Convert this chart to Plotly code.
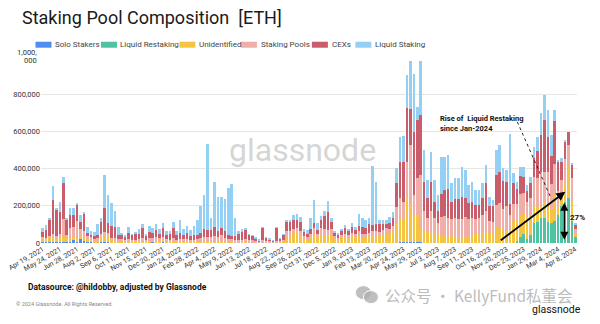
import plotly.graph_objects as go
import pandas as pd

# ---------------- data (values in thousands of ETH) ----------------
weeks = pd.date_range("2021-04-19", periods=156, freq="7D")
categories = [d.strftime("%Y-%m-%d") for d in weeks]

tick_labels = ["Apr 19, 2021", "May 24, 2021", "Jun 28, 2021", "Aug 2, 2021", "Sep 6, 2021",
               "Oct 11, 2021", "Nov 15, 2021", "Dec 20, 2021", "Jan 24, 2022", "Feb 28, 2022",
               "Apr 4, 2022", "May 9, 2022", "Jun 13, 2022", "Jul 18, 2022", "Aug 22, 2022",
               "Sep 26, 2022", "Oct 31, 2022", "Dec 5, 2022", "Jan 9, 2023", "Feb 13, 2023",
               "Mar 20, 2023", "Apr 24, 2023", "May 29, 2023", "Jul 3, 2023", "Aug 7, 2023",
               "Sep 11, 2023", "Oct 16, 2023", "Nov 20, 2023", "Dec 25, 2023", "Jan 29, 2024",
               "Mar 4, 2024", "Apr 8, 2024"]

solo_stakers = [3, 3, 5, 5, 5, 5, 5, 3, 5, 15,
                5, 25, 10, 5, 8, 3, 5, 3, 3, 3,
                2, 2, 2, 2, 2, 2, 2, 3, 3, 3,
                2, 3, 8, 3, 3, 10, 3, 3, 3, 3,
                3, 3, 3, 2, 2, 2, 2, 2, 2, 2,
                2, 2, 2, 2, 2, 2, 2, 2, 2, 2,
                2, 2, 2, 1, 2, 1, 1, 1, 1, 1,
                1, 2, 2, 2, 2, 2, 1, 1, 1, 1,
                1, 1, 1, 1, 1, 1, 1, 1, 1, 1,
                1, 1, 1, 1, 1, 1, 2, 2, 1, 1,
                1, 1, 2, 2, 3, 3, 5, 5, 5, 3,
                3, 2, 2, 2, 2, 2, 2, 2, 2, 2,
                2, 2, 2, 2, 2, 2, 2, 2, 2, 2,
                2, 2, 2, 2, 2, 2, 2, 2, 2, 2,
                2, 2, 2, 2, 2, 2, 2, 2, 2, 2,
                2, 2, 2, 2, 2, 1]

liquid_restaking = [0, 0, 0, 0, 0, 0, 0, 0, 0, 0,
                    0, 0, 0, 0, 0, 0, 0, 0, 0, 0,
                    0, 0, 0, 0, 0, 0, 0, 0, 0, 0,
                    0, 0, 0, 0, 0, 0, 0, 0, 0, 0,
                    0, 0, 0, 0, 0, 0, 0, 0, 0, 0,
                    0, 0, 0, 0, 0, 0, 0, 0, 0, 0,
                    0, 0, 0, 0, 0, 0, 0, 0, 0, 0,
                    0, 0, 0, 0, 0, 0, 0, 0, 0, 0,
                    0, 0, 0, 0, 0, 0, 0, 0, 0, 0,
                    0, 0, 0, 0, 0, 0, 0, 0, 0, 0,
                    0, 0, 0, 0, 0, 0, 0, 0, 0, 0,
                    0, 0, 0, 0, 0, 0, 0, 0, 0, 0,
                    0, 0, 0, 0, 0, 0, 0, 0, 0, 0,
                    0, 0, 0, 0, 0, 0, 0, 0, 10, 30,
                    45, 20, 40, 105, 110, 130, 135, 110, 105, 115,
                    150, 195, 220, 240, 115, 30]

unidentified = [25, 20, 25, 20, 15, 25, 30, 22, 20, 15,
                20, 10, 15, 15, 12, 10, 10, 30, 45, 35,
                12, 10, 8, 8, 5, 8, 5, 5, 8, 10,
                6, 10, 8, 10, 8, 8, 6, 5, 8, 5,
                5, 5, 5, 5, 5, 5, 5, 5, 5, 10,
                5, 5, 5, 5, 5, 5, 3, 3, 3, 3,
                3, 3, 2, 2, 3, 3, 2, 2, 3, 3,
                5, 25, 30, 45, 60, 40, 20, 15, 30, 45,
                30, 35, 40, 40, 35, 20, 15, 25, 30, 25,
                35, 30, 40, 30, 30, 35, 35, 30, 35, 40,
                50, 50, 55, 100, 130, 120, 236, 200, 147, 150,
                80, 60, 55, 50, 50, 45, 40, 35, 30, 35,
                25, 30, 25, 30, 35, 40, 45, 40, 50, 60,
                45, 45, 80, 85, 70, 75, 60, 110, 110, 120,
                110, 120, 110, 100, 80, 70, 85, 100, 70, 150,
                40, 40, 100, 170, 106, 25]

staking_pools = [5, 5, 8, 25, 15, 20, 95, 20, 55, 55,
                 95, 40, 40, 20, 10, 10, 10, 15, 10, 15,
                 15, 15, 10, 10, 8, 12, 8, 10, 12, 15,
                 10, 15, 10, 20, 15, 15, 12, 10, 15, 10,
                 12, 12, 15, 10, 10, 12, 18, 25, 25, 20,
                 30, 25, 35, 20, 15, 15, 10, 10, 10, 15,
                 10, 10, 5, 5, 10, 8, 6, 5, 8, 6,
                 10, 40, 35, 30, 20, 20, 15, 15, 20, 35,
                 15, 45, 35, 30, 40, 15, 10, 15, 15, 15,
                 20, 15, 25, 20, 20, 20, 30, 30, 25, 30,
                 30, 25, 35, 90, 110, 100, 197, 320, 107, 195,
                 280, 108, 80, 120, 80, 60, 100, 110, 100, 90,
                 110, 95, 100, 110, 90, 95, 80, 90, 100, 110,
                 70, 65, 125, 130, 110, 120, 90, 100, 90, 110,
                 110, 80, 90, 150, 160, 180, 160, 170, 140, 160,
                 90, 100, 130, 115, 125, 20]

cexs = [24, 40, 90, 180, 140, 115, 195, 80, 68, 67,
        85, 40, 90, 15, 12, 13, 20, 65, 130, 55,
        65, 60, 25, 25, 22, 30, 28, 32, 25, 52,
        22, 30, 30, 35, 22, 47, 22, 30, 52, 25,
        35, 25, 32, 22, 25, 25, 30, 45, 40, 40,
        50, 35, 40, 35, 20, 15, 20, 35, 45, 52,
        28, 25, 15, 8, 70, 16, 12, 7, 70, 12,
        27, 50, 50, 45, 40, 50, 25, 20, 25, 25,
        25, 40, 70, 95, 35, 20, 18, 25, 35, 25,
        30, 25, 25, 35, 30, 45, 30, 40, 40, 30,
        20, 30, 45, 130, 195, 210, 286, 195, 340, 313,
        327, 160, 104, 158, 91, 63, 120, 140, 160, 95,
        100, 110, 120, 100, 90, 85, 80, 75, 90, 150,
        80, 85, 160, 167, 150, 130, 60, 110, 80, 100,
        90, 60, 80, 100, 140, 200, 280, 190, 150, 230,
        155, 100, 92, 72, 72, 20]

liquid_staking = [23, 28, 6, 77, 15, 58, 32, 10, 40, 36,
                  5, 37, 13, 31, 21, 21, 57, 21, 178, 151,
                  120, 83, 41, 9, 3, 34, 2, 4, 27, 24,
                  8, 35, 26, 34, 27, 27, 19, 14, 33, 19,
                  70, 30, 38, 29, 48, 81, 142, 182, 458, 62,
                  242, 181, 163, 174, 253, 279, 99, 12, 17, 5,
                  2, 2, 3, 2, 1, 2, 1, 1, 2, 2,
                  2, 4, 4, 30, 33, 27, 16, 21, 61, 126,
                  36, 22, 27, 61, 23, 6, 6, 11, 17, 11,
                  21, 13, 64, 48, 44, 33, 319, 228, 24, 24,
                  24, 34, 28, 80, 134, 142, 181, 260, 311, 72,
                  290, 170, 99, 161, 117, 89, 203, 178, 182, 100,
                  111, 111, 159, 151, 96, 108, 79, 79, 80, 98,
                  53, 35, 133, 143, 70, 66, 372, 53, 38, 49,
                  54, 31, 35, 61, 80, 115, 133, 143, 113, 58,
                  10, 19, 10, 0, 9, 11]

series_names = ["Solo Stakers", "Liquid Restaking", "Unidentified", "Staking Pools", "CEXs", "Liquid Staking"]
series_values = [solo_stakers, liquid_restaking, unidentified, staking_pools, cexs, liquid_staking]
series_colors = ["#4f8ef0", "#4fc3a1", "#f6c443", "#f0aea8", "#c95d6b", "#93d0f4"]

y_tickvals = [0, 200000, 400000, 600000, 800000, 1000000]
y_ticktext = ["0", "200,000", "400,000", "600,000", "800,000", ""]
y_top_label = ["1,000,", "000"]

# ---------------- layout geometry ----------------
FW, FH = 600, 324
ML, MT, MR, MB = 40.5, 57, 23.3, 80.7
PW, PH = FW - ML - MR, FH - MT - MB


def pp(x, y):
    return (x - ML) / PW, 1 - (y - MT) / PH


fig = go.Figure()
for name, vals, col in zip(series_names, series_values, series_colors):
    fig.add_trace(go.Bar(x=categories, y=[v * 1000 for v in vals], name=name,
                         marker=dict(color=col, line=dict(width=0)), showlegend=False))

annotations = []
shapes = []

# title
tx, ty = pp(19, 17)
annotations.append(dict(x=tx, y=ty, xref="paper", yref="paper", xanchor="left", yanchor="middle",
                        text="Staking Pool Composition  [ETH]", showarrow=False,
                        font=dict(family="Roboto", size=18, color="#1a1a1a")))

# manual legend
legend_pos = [(35, 53), (100.5, 118), (179, 197), (240.5, 259), (311.5, 330), (355, 373)]
for (rx, tx_), name, col in zip(legend_pos, series_names, series_colors):
    x0, y0 = pp(rx, 41.7)
    x1, y1 = pp(rx + 16, 47.7)
    shapes.append(dict(type="rect", xref="paper", yref="paper", x0=x0, x1=x1, y0=y0, y1=y1,
                       fillcolor=col, line=dict(width=0)))
    lx, ly = pp(tx_, 44.7)
    annotations.append(dict(x=lx, y=ly, xref="paper", yref="paper", xanchor="left", yanchor="middle",
                            text=name, showarrow=False,
                            font=dict(family="Roboto", size=8, color="#444")))

# wrapped top y tick label
for txt, yy in zip(y_top_label, [52.5, 60.5]):
    lx, ly = pp(38.5, yy)
    annotations.append(dict(x=lx, y=ly, xref="paper", yref="paper", xanchor="right", yanchor="middle",
                            text=txt, showarrow=False,
                            font=dict(family="Roboto", size=7.5, color="#333")))

# watermark
wx, wy = pp(302, 150)
annotations.append(dict(x=wx, y=wy, xref="paper", yref="paper", xanchor="center", yanchor="middle",
                        text="glassnode", showarrow=False,
                        font=dict(family="Roboto", size=32, color="rgba(200,200,200,0.75)")))

# in-chart annotation text
ax1, ay1 = pp(438, 119)
annotations.append(dict(x=ax1, y=ay1, xref="paper", yref="paper", xanchor="left", yanchor="middle",
                        text="<b>Rise of  Liquid Restaking</b>", showarrow=False,
                        font=dict(family="Roboto", size=7.5, color="#111")))
ax2, ay2 = pp(438, 128.5)
annotations.append(dict(x=ax2, y=ay2, xref="paper", yref="paper", xanchor="left", yanchor="middle",
                        text="<b>since Jan-2024</b>", showarrow=False,
                        font=dict(family="Roboto", size=7.5, color="#111")))

# dotted pointer
d0x, d0y = pp(517, 122)
d1x, d1y = pp(551, 199)
shapes.append(dict(type="line", xref="paper", yref="paper", x0=d0x, y0=d0y, x1=d1x, y1=d1y,
                   line=dict(color="#222", width=1, dash="dot")))

# rising arrow
hx, hy = pp(565, 192)
annotations.append(dict(x=hx, y=hy, xref="paper", yref="paper", text="", showarrow=True,
                        ax=499 - 565, ay=241.5 - 192, arrowhead=2, arrowsize=1, arrowwidth=1.8,
                        arrowcolor="#000"))
# double arrow
vx, vy = pp(564, 203)
annotations.append(dict(x=vx, y=vy, xref="paper", yref="paper", text="", showarrow=True,
                        ax=0, ay=38.5, arrowhead=2, startarrowhead=2, arrowside="end+start",
                        arrowsize=1, arrowwidth=1.6, arrowcolor="#000"))
px_, py_ = pp(568, 217.5)
annotations.append(dict(x=px_, y=py_, xref="paper", yref="paper", xanchor="left", yanchor="middle",
                        text="<b>27%</b>", showarrow=False,
                        font=dict(family="Roboto", size=8, color="#111")))

# footer
fx, fy = pp(25, 287)
annotations.append(dict(x=fx, y=fy, xref="paper", yref="paper", xanchor="left", yanchor="middle",
                        text="<b>Datasource: @hildobby, adjusted by Glassnode</b>", showarrow=False,
                        font=dict(family="Liberation Sans Narrow, Roboto", size=8.5, color="#111")))
cx, cy = pp(13, 304)
annotations.append(dict(x=cx, y=cy, xref="paper", yref="paper", xanchor="left", yanchor="middle",
                        text="© 2024 Glassnode. All Rights Reserved.", showarrow=False,
                        font=dict(family="Roboto", size=5.5, color="#888")))
gx, gy = pp(583, 310)
annotations.append(dict(x=gx, y=gy, xref="paper", yref="paper", xanchor="right", yanchor="middle",
                        text="glassnode", showarrow=False,
                        font=dict(family="Roboto", size=10.5, color="#111")))

# WeChat overlay watermark
for (x0p, y0p, x1p, y1p) in [(355, 286, 371, 300), (363, 291, 378, 304)]:
    a0, b0 = pp(x0p, y0p)
    a1, b1 = pp(x1p, y1p)
    shapes.append(dict(type="circle", xref="paper", yref="paper", x0=a0, y0=b1, x1=a1, y1=b0,
                       fillcolor="rgba(175,175,175,0.8)", line=dict(color="white", width=1)))
wcx, wcy = pp(383, 295)
annotations.append(dict(x=wcx, y=wcy, xref="paper", yref="paper", xanchor="left", yanchor="middle",
                        text="公众号 · KellyFund私董会", showarrow=False,
                        font=dict(family="Noto Sans CJK SC", size=15.5, color="rgba(170,170,170,0.8)")))

fig.update_layout(
    width=FW, height=FH,
    margin=dict(l=ML, r=MR, t=MT, b=MB, pad=0),
    barmode="stack", bargap=0.25,
    plot_bgcolor="white", paper_bgcolor="white",
    font=dict(family="Roboto", color="#333"),
    annotations=annotations, shapes=shapes,
    xaxis=dict(type="category", tickvals=categories[::5], ticktext=tick_labels,
               tickangle=-30, tickfont=dict(family="Roboto", size=7, color="#333"),
               showgrid=False, ticks="", showline=False, zeroline=False, automargin=False,
               range=[-0.5, len(categories) - 0.5]),
    yaxis=dict(range=[0, 1000000], tickvals=y_tickvals, ticktext=y_ticktext,
               tickfont=dict(family="Roboto", size=7.5, color="#333"),
               gridcolor="#e6e6e6", gridwidth=1, showline=False, zeroline=False,
               ticks="", automargin=False),
)

fig.write_html("out.html")
